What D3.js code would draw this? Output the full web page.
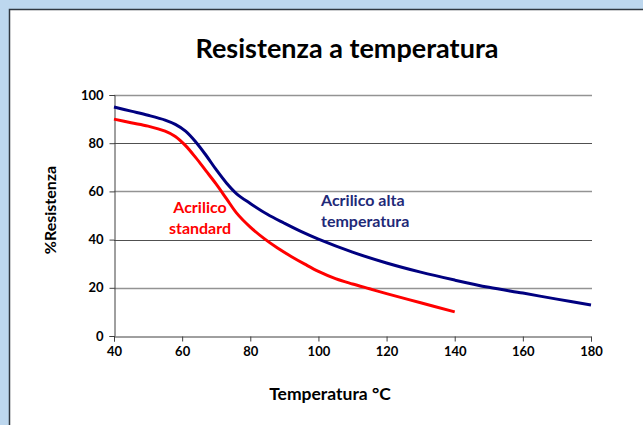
<!DOCTYPE html>
<html><head><meta charset="utf-8">
<script src="https://cdn.jsdelivr.net/npm/d3@7"></script>
<style>body{margin:0;background:#bdd7ee;overflow:hidden}svg{display:block}</style>
</head><body>
<svg id="c" width="643" height="425"></svg>
<script>
const title = "Resistenza a temperatura";
const xTitle = "Temperatura °C";
const yTitle = "%Resistenza";
const xTicks = [40, 60, 80, 100, 120, 140, 160, 180];
const yTicks = [0, 20, 40, 60, 80, 100];
const stdTemp = [40, 45, 50, 55, 58, 61, 64, 67, 70, 73, 76, 80, 84, 88, 92, 96, 100, 105, 110, 115, 120, 130, 140];
const stdRes  = [90, 88.5, 87.1, 85, 82.8, 79, 74, 68.5, 63, 57, 51, 45.2, 40.5, 36.5, 33, 29.8, 26.8, 23.8, 21.6, 19.6, 17.6, 13.8, 10];
const altTemp = [40, 45, 50, 55, 58, 61, 64, 67, 70, 73, 76, 80, 85, 90, 95, 100, 110, 120, 130, 140, 150, 160, 170, 180];
const altRes  = [95, 93.3, 91.6, 89.6, 87.8, 85, 80.5, 75, 69, 63.5, 59, 55, 50.5, 46.8, 43.3, 40.2, 34.8, 30.3, 26.5, 23.2, 20.2, 17.8, 15.3, 12.9];
const stdLabel = ["Acrilico", "standard"];
const altLabel = ["Acrilico alta", "temperatura"];

const svg = d3.select("#c");
const font = "Lato, 'Open Sans', sans-serif";
svg.append("rect").attr("x", 9.5).attr("y", 9.5).attr("width", 700).attr("height", 500)
  .attr("fill", "#fff").attr("stroke", "#303840").attr("stroke-width", 1.5);

const x = d3.scaleLinear().domain([40, 180]).range([114, 591]);
const y = d3.scaleLinear().domain([0, 100]).range([336, 95]);

svg.append("text").attr("x", 347).attr("y", 58).attr("text-anchor", "middle")
  .attr("font-family", font).attr("font-weight", "bold").attr("font-size", 27).text(title);

const g = svg.append("g");
g.selectAll("line.grid").data(yTicks.filter(d => d > 0)).join("line")
  .attr("x1", x(40)).attr("x2", x(180) + 1)
  .attr("y1", d => Math.round(y(d)) + 0.5).attr("y2", d => Math.round(y(d)) + 0.5)
  .attr("stroke", d => (d % 40 === 0 ? "#505050" : "#939393"))
  .attr("stroke-width", d => (d % 40 === 0 ? 1 : 1.6));

const xAxis = svg.append("g").attr("transform", `translate(0,${Math.round(y(0)) + 0.5})`)
  .call(d3.axisBottom(x).tickValues(xTicks).tickSize(5).tickPadding(5));
const yAxis = svg.append("g").attr("transform", `translate(${Math.round(x(40)) + 0.5},0)`)
  .call(d3.axisLeft(y).tickValues(yTicks).tickSize(5).tickPadding(6));
[xAxis, yAxis].forEach(a => {
  a.select(".domain").attr("stroke", "#404040");
  a.selectAll(".tick line").attr("stroke", "#404040");
  a.selectAll(".tick text").attr("font-family", font).attr("font-weight", "bold")
    .attr("font-size", 13).attr("fill", "#000");
});

const line = d3.line().x(d => x(d[0])).y(d => y(d[1])).curve(d3.curveCatmullRom.alpha(0.5));
svg.append("path").datum(stdTemp.map((t, i) => [t, stdRes[i]])).attr("d", line)
  .attr("fill", "none").attr("stroke", "#ff0000").attr("stroke-width", 3);
svg.append("path").datum(altTemp.map((t, i) => [t, altRes[i]])).attr("d", line)
  .attr("fill", "none").attr("stroke", "#000080").attr("stroke-width", 3);

svg.append("text").attr("x", 330).attr("y", 400).attr("text-anchor", "middle")
  .attr("font-family", font).attr("font-weight", "bold").attr("font-size", 17.5).text(xTitle);
svg.append("text").attr("transform", "translate(56,210) rotate(-90)").attr("text-anchor", "middle")
  .attr("font-family", font).attr("font-weight", "bold").attr("font-size", 16).text(yTitle);

svg.append("g").selectAll("text").data(stdLabel).join("text")
  .attr("x", 200).attr("y", (d, i) => 213 + i * 21).attr("text-anchor", "middle")
  .attr("font-family", font).attr("font-weight", "bold").attr("font-size", 16)
  .attr("fill", "#ff0000").text(d => d);
svg.append("g").selectAll("text").data(altLabel).join("text")
  .attr("x", 321).attr("y", (d, i) => 206 + i * 21).attr("text-anchor", "start")
  .attr("font-family", font).attr("font-weight", "bold").attr("font-size", 16)
  .attr("fill", "#1f2a78").text(d => d);
</script>
</body></html>
